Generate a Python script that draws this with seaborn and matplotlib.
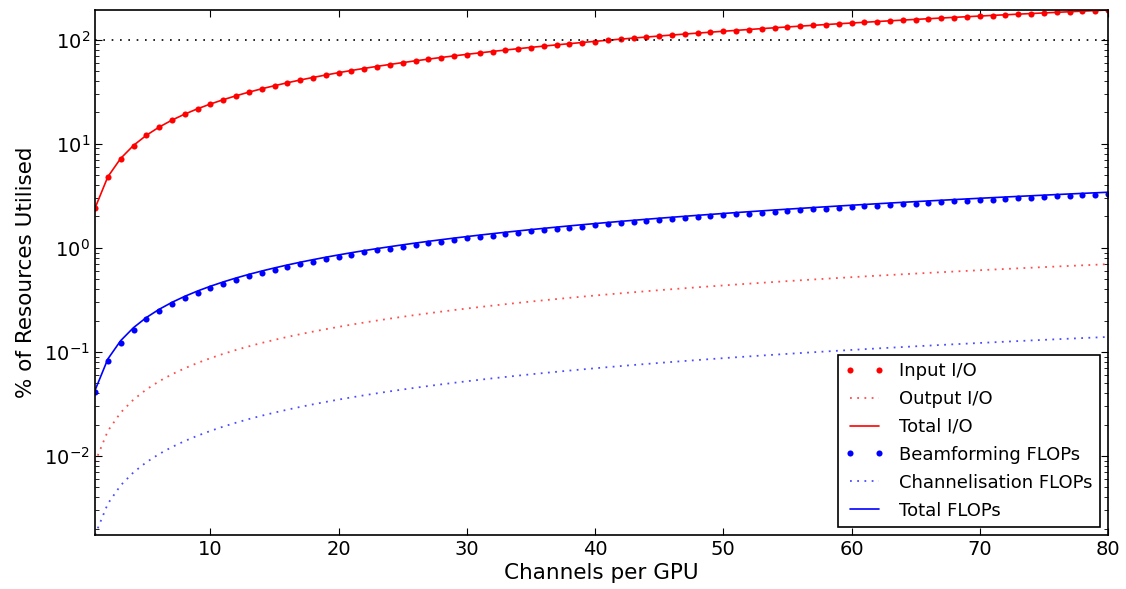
import matplotlib
matplotlib.use("Agg")
import matplotlib.pyplot as plt
import seaborn as sns
import pandas as pd

channels = list(range(1, 81))

input_io = [2.4, 4.8, 7.2, 9.6, 12, 14.4, 16.8, 19.2, 21.6, 24,
            26.4, 28.8, 31.2, 33.6, 36, 38.4, 40.8, 43.2, 45.6, 48,
            50.4, 52.8, 55.2, 57.6, 60, 62.4, 64.8, 67.2, 69.6, 72,
            74.4, 76.8, 79.2, 81.6, 84, 86.4, 88.8, 91.2, 93.6, 96,
            98.4, 100.8, 103.2, 105.6, 108, 110.4, 112.8, 115.2, 117.6, 120,
            122.4, 124.8, 127.2, 129.6, 132, 134.4, 136.8, 139.2, 141.6, 144,
            146.4, 148.8, 151.2, 153.6, 156, 158.4, 160.8, 163.2, 165.6, 168,
            170.4, 172.8, 175.2, 177.6, 180, 182.4, 184.8, 187.2, 189.6, 192]

output_io = [0.0087, 0.0174, 0.0261, 0.0348, 0.0435, 0.0522, 0.0609, 0.0696, 0.0783, 0.087,
             0.0957, 0.1044, 0.1131, 0.1218, 0.1305, 0.1392, 0.1479, 0.1566, 0.1653, 0.174,
             0.1827, 0.1914, 0.2001, 0.2088, 0.2175, 0.2262, 0.2349, 0.2436, 0.2523, 0.261,
             0.2697, 0.2784, 0.2871, 0.2958, 0.3045, 0.3132, 0.3219, 0.3306, 0.3393, 0.348,
             0.3567, 0.3654, 0.3741, 0.3828, 0.3915, 0.4002, 0.4089, 0.4176, 0.4263, 0.435,
             0.4437, 0.4524, 0.4611, 0.4698, 0.4785, 0.4872, 0.4959, 0.5046, 0.5133, 0.522,
             0.5307, 0.5394, 0.5481, 0.5568, 0.5655, 0.5742, 0.5829, 0.5916, 0.6003, 0.609,
             0.6177, 0.6264, 0.6351, 0.6438, 0.6525, 0.6612, 0.6699, 0.6786, 0.6873, 0.696]

beam_flops = [0.041, 0.082, 0.123, 0.164, 0.205, 0.246, 0.287, 0.328, 0.369, 0.41,
              0.451, 0.492, 0.533, 0.574, 0.615, 0.656, 0.697, 0.738, 0.779, 0.82,
              0.861, 0.902, 0.943, 0.984, 1.025, 1.066, 1.107, 1.148, 1.189, 1.23,
              1.271, 1.312, 1.353, 1.394, 1.435, 1.476, 1.517, 1.558, 1.599, 1.64,
              1.681, 1.722, 1.763, 1.804, 1.845, 1.886, 1.927, 1.968, 2.009, 2.05,
              2.091, 2.132, 2.173, 2.214, 2.255, 2.296, 2.337, 2.378, 2.419, 2.46,
              2.501, 2.542, 2.583, 2.624, 2.665, 2.706, 2.747, 2.788, 2.829, 2.87,
              2.911, 2.952, 2.993, 3.034, 3.075, 3.116, 3.157, 3.198, 3.239, 3.28]

chan_flops = [0.00174, 0.00348, 0.00522, 0.00696, 0.0087, 0.01044, 0.01218, 0.01392, 0.01566, 0.0174,
              0.01914, 0.02088, 0.02262, 0.02436, 0.0261, 0.02784, 0.02958, 0.03132, 0.03306, 0.0348,
              0.03654, 0.03828, 0.04002, 0.04176, 0.0435, 0.04524, 0.04698, 0.04872, 0.05046, 0.0522,
              0.05394, 0.05568, 0.05742, 0.05916, 0.0609, 0.06264, 0.06438, 0.06612, 0.06786, 0.0696,
              0.07134, 0.07308, 0.07482, 0.07656, 0.0783, 0.08004, 0.08178, 0.08352, 0.08526, 0.087,
              0.08874, 0.09048, 0.09222, 0.09396, 0.0957, 0.09744, 0.09918, 0.10092, 0.10266, 0.1044,
              0.10614, 0.10788, 0.10962, 0.11136, 0.1131, 0.11484, 0.11658, 0.11832, 0.12006, 0.1218,
              0.12354, 0.12528, 0.12702, 0.12876, 0.1305, 0.13224, 0.13398, 0.13572, 0.13746, 0.1392]

limit_line = 100

df = pd.DataFrame({
    "ch": channels,
    "input": input_io,
    "output": output_io,
    "beam": beam_flops,
    "chan": chan_flops,
})
df["total_io"] = df["input"] + df["output"]
df["total_flops"] = df["beam"] + df["chan"]

sns.set_style("ticks")
plt.rcParams["font.family"] = ["DejaVu Sans"]
plt.rcParams["xtick.direction"] = "in"
plt.rcParams["ytick.direction"] = "in"
plt.rcParams["text.color"] = "black"
plt.rcParams["axes.labelcolor"] = "black"
plt.rcParams["xtick.color"] = "black"
plt.rcParams["ytick.color"] = "black"

fig = plt.figure(figsize=(11.26, 5.89), dpi=100)
ax = fig.add_axes([0.0844, 0.0917, 0.8996, 0.8913])

sns.lineplot(data=df, x="ch", y="input", ax=ax, color="red", linestyle="none",
             marker="o", markersize=4.4, markeredgewidth=0, label="Input I/O")
sns.lineplot(data=df, x="ch", y="output", ax=ax, color="red", alpha=0.7,
             linestyle=(0, (1, 3)), linewidth=1.3, label="Output I/O")
sns.lineplot(data=df, x="ch", y="total_io", ax=ax, color="red", linewidth=1.2,
             label="Total I/O")
sns.lineplot(data=df, x="ch", y="beam", ax=ax, color="blue", linestyle="none",
             marker="o", markersize=4.4, markeredgewidth=0, label="Beamforming FLOPs")
sns.lineplot(data=df, x="ch", y="chan", ax=ax, color="blue", alpha=0.7,
             linestyle=(0, (1, 3)), linewidth=1.3, label="Channelisation FLOPs")
sns.lineplot(data=df, x="ch", y="total_flops", ax=ax, color="blue", linewidth=1.2,
             label="Total FLOPs")
ax.axhline(limit_line, color="black", linestyle=(0, (1, 4)), linewidth=1.2)

ax.set_yscale("log")
ax.set_xlim(min(channels), max(channels))
ymin = min(df[["input", "output", "total_io", "beam", "chan", "total_flops"]].min())
ymax = max(df[["input", "output", "total_io", "beam", "chan", "total_flops"]].max())
ax.set_ylim(ymin, ymax)
ax.set_xticks([10, 20, 30, 40, 50, 60, 70, 80])

ax.set_xlabel("Channels per GPU", fontsize=15.5, labelpad=3)
ax.set_ylabel("% of Resources Utilised", fontsize=15.5, labelpad=6)
ax.tick_params(axis="both", which="major", labelsize=14, length=5, width=0.8,
               top=True, right=True, direction="in")
ax.tick_params(axis="y", which="minor", length=3, width=0.6, left=True, right=True,
               direction="in")
for sp in ax.spines.values():
    sp.set_linewidth(1.2)
    sp.set_color("black")

leg = ax.legend(loc="lower right", numpoints=2, fontsize=13, frameon=True,
                fancybox=False, borderaxespad=0.45, handlelength=2.2,
                labelspacing=0.55)
leg.get_frame().set_edgecolor("black")
leg.get_frame().set_linewidth(1.2)
leg.get_frame().set_alpha(1)

fig.savefig("out.png", dpi=100)
